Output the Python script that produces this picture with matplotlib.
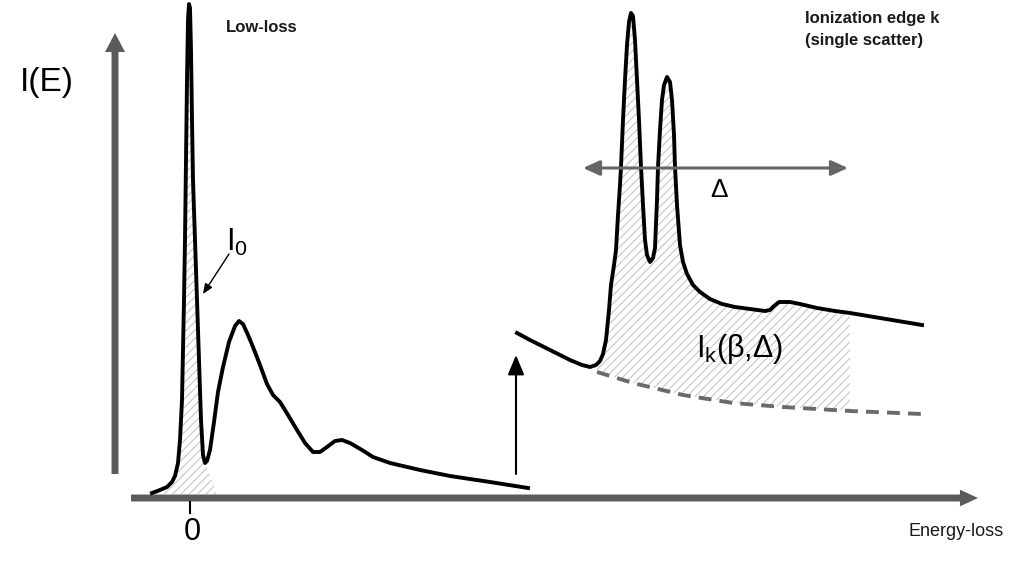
import numpy as np
import matplotlib
matplotlib.use("Agg")
import matplotlib.pyplot as plt
from matplotlib.patches import FancyArrowPatch, ArrowStyle, Polygon

plt.rcParams['font.family'] = ['Liberation Sans', 'DejaVu Sans']
plt.rcParams['mathtext.fontset'] = 'custom'
plt.rcParams['mathtext.rm'] = 'Liberation Sans'
plt.rcParams['mathtext.it'] = 'Liberation Sans:italic'
plt.rcParams['mathtext.bf'] = 'Liberation Sans:bold'
plt.rcParams['hatch.linewidth'] = 0.8

# ---------------- data (energy-loss, intensity; schematic units) ----------------
lowloss_E = [-38, -30, -23, -18, -15, -12, -10, -8, -7, -6,
             -5, -4, -3, -2, -1, 0, 1, 2, 3, 5,
             7, 9, 11, 13, 15, 17, 20, 24, 28, 33,
             39, 45, 49, 53, 58, 63, 70, 77, 83, 90,
             98, 107, 115, 123, 130, 137, 145, 152, 160, 172,
             183, 200, 230, 260, 300, 338]
lowloss_I = [4, 7, 10, 15, 21, 34, 57, 97, 147, 197,
             257, 337, 417, 477, 493, 489, 447, 377, 317, 257,
             197, 137, 77, 42, 34, 36, 47, 75, 105, 130,
             155, 171, 176, 173, 162, 150, 132, 113, 102, 95,
             82, 67, 54, 45, 45, 50, 56, 57, 54, 47,
             40, 34, 27, 21, 15, 9]

edge_E = [327, 340, 360, 380, 392, 400, 406, 410, 413, 416,
          419, 421, 424, 426, 428, 430, 431, 433, 435, 437,
          439, 441, 443, 445, 447, 449, 451, 453, 455, 457,
          460, 463, 465, 467, 468, 470, 472, 474, 477, 480,
          482, 484, 485, 487, 490, 493, 497, 503, 510, 520,
          532, 545, 560, 575, 580, 584, 589, 600, 610, 627,
          645, 660, 690, 732]
edge_I = [164, 157, 147, 137, 132, 130, 132, 136, 143, 157,
          187, 212, 232, 247, 282, 312, 330, 377, 417, 452,
          475, 484, 481, 457, 417, 377, 330, 292, 257, 242,
          235, 239, 249, 297, 330, 367, 397, 412, 420, 415,
          397, 362, 330, 292, 252, 235, 223, 212, 205, 198,
          193, 190, 188, 186, 187, 191, 195, 195, 193, 189,
          186, 184, 179, 172]

background_E = [407, 443, 493, 543, 593, 660, 732]
background_I = [125, 114, 102, 94, 90, 86, 83]

zlp_hatch_end = (15, 27)      # curve minimum energy, hatch end on baseline
edge_window = (407, 660)      # integration window Delta
tick_values = [0]
tick_labels = ['0']

# ---------------- figure ----------------
fig = plt.figure(figsize=(10.17, 5.72), dpi=100)
ax = fig.add_axes([0, 0, 1, 1])
ax.set_xlim(-190, 827)
ax.set_ylim(-75, 497)
ax.axis('off')

AX_GREY = '#5b5b5b'

# hatched zero-loss area
lE = np.array(lowloss_E, float)
lI = np.array(lowloss_I, float)
m = lE <= zlp_hatch_end[0]
poly = list(zip(lE[m], lI[m])) + [(zlp_hatch_end[1], 3), (lE[0], 3)]
ax.add_patch(Polygon(poly, closed=True, facecolor='none', edgecolor='#c6c6c6',
                     hatch='////', linewidth=0, zorder=1))

# hatched edge area
eE = np.array(edge_E, float)
eI = np.array(edge_I, float)
xs = np.linspace(edge_window[0], edge_window[1], 400)
top = np.interp(xs, eE, eI)
bot = np.interp(xs, background_E, background_I)
ax.fill_between(xs, bot, top, facecolor='none', edgecolor='#c6c6c6',
                hatch='////', linewidth=0, zorder=1)

# spectra
ax.plot(lE, lI, color='black', lw=2.8, solid_joinstyle='round', zorder=3)
ax.plot(eE, eI, color='black', lw=2.8, solid_joinstyle='round', zorder=3)
ax.plot(background_E, background_I, color='#6a6a6a', lw=2.8,
        linestyle=(0, (3.3, 2.1)), dash_capstyle='butt', zorder=2)

# axes arrows
ax.add_patch(FancyArrowPatch((-75, 23), (-75, 464),
             arrowstyle=ArrowStyle('simple', head_length=13.7, head_width=14.4, tail_width=5.0),
             mutation_scale=1, color=AX_GREY, lw=0, shrinkA=0, shrinkB=0, zorder=2))
ax.add_patch(FancyArrowPatch((-59, -1), (788, -1),
             arrowstyle=ArrowStyle('simple', head_length=13.0, head_width=12.0, tail_width=5.0),
             mutation_scale=1, color=AX_GREY, lw=0, shrinkA=0, shrinkB=0, zorder=2))

# tick and label
for tv, tl in zip(tick_values, tick_labels):
    ax.plot([tv, tv], [-5, -16], color='black', lw=1.5, zorder=2)
    ax.text(tv + 2, -35, tl, fontsize=22, ha='center', va='center')

# Delta double arrow
ax.add_patch(FancyArrowPatch((393, 329), (658, 329),
             arrowstyle=ArrowStyle('<|-|>', head_length=10, head_width=4.5),
             mutation_scale=1, color='#666666', lw=2.2, shrinkA=0, shrinkB=0, zorder=4))

# black edge-onset arrow
ax.add_patch(FancyArrowPatch((326, 23), (326, 142),
             arrowstyle=ArrowStyle('-|>', head_length=12, head_width=5),
             mutation_scale=1, color='black', lw=1.5, shrinkA=0, shrinkB=0, zorder=4))

# I0 pointer
ax.add_patch(FancyArrowPatch((39, 243), (13, 203),
             arrowstyle=ArrowStyle('-|>', head_length=6, head_width=2.5),
             mutation_scale=1, color='black', lw=1.0, shrinkA=0, shrinkB=0, zorder=4))

# texts
ax.text(-170, 415, 'I(E)', fontsize=24, ha='left', va='center')
ax.text(36, 470, 'Low-loss', fontsize=12, fontweight='bold', ha='left', va='center',
        color='#1a1a1a')
ax.text(615, 478, 'Ionization edge k', fontsize=12, fontweight='bold', ha='left',
        va='center', color='#1a1a1a')
ax.text(615, 456, '(single scatter)', fontsize=12, fontweight='bold', ha='left',
        va='center', color='#1a1a1a')
ax.text(719, -34, 'Energy-loss', fontsize=13, ha='left', va='center', color='#1a1a1a')
ax.text(529, 307, 'Δ', fontsize=19, ha='center', va='center')
ax.text(36, 255, r'$\mathrm{I}_{\mathrm{0}}$', fontsize=22, ha='left', va='center')
ax.text(506, 148, r'$\mathrm{I_k}$(β,Δ)', fontsize=22, ha='left', va='center')

fig.savefig('out.png', dpi=100)
